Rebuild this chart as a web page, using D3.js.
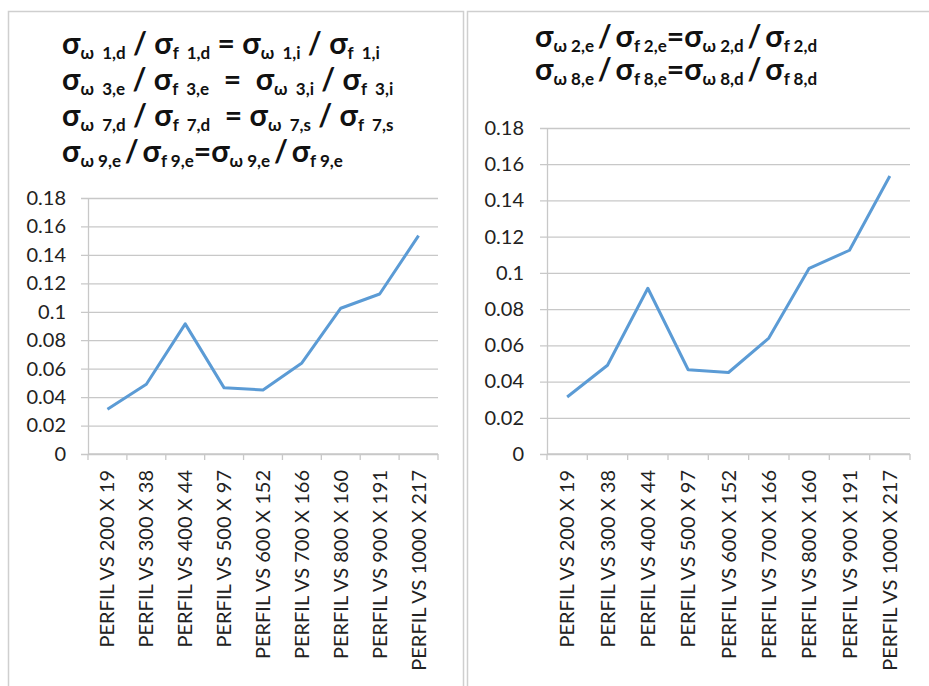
<!DOCTYPE html>
<html>
<head>
<meta charset="utf-8">
<script src="https://cdn.jsdelivr.net/npm/d3@7"></script>
<style>
  html, body { margin: 0; padding: 0; background: #fff; }
  svg { display: block; }
</style>
</head>
<body>
<svg id="chart" width="929" height="686"></svg>
<script>
// Profile comparisons along the x-axis
const categories = [
  "PERFIL VS 200 X 19",
  "PERFIL VS 300 X 38",
  "PERFIL VS 400 X 44",
  "PERFIL VS 500 X 97",
  "PERFIL VS 600 X 152",
  "PERFIL VS 700 X 166",
  "PERFIL VS 800 X 160",
  "PERFIL VS 900 X 191",
  "PERFIL VS 1000 X 217"
];

// Stress ratio for each profile, one series per panel
const valuesLeft  = [0.0315, 0.049, 0.0915, 0.0465, 0.045, 0.064, 0.1025, 0.1125, 0.1535];
const valuesRight = [0.0315, 0.049, 0.0915, 0.0465, 0.045, 0.064, 0.1025, 0.1125, 0.1535];

const yTicks = [0, 0.02, 0.04, 0.06, 0.08, 0.1, 0.12, 0.14, 0.16, 0.18];

// Title lines: [main text, subscript] pairs (thin spaces around compact slashes)
const titleLeft = [
  [["σ", "ω  1,d"], [" / ", ""], ["σ", "f  1,d"], [" = ", ""], ["σ", "ω  1,i"], [" / ", ""], ["σ", "f  1,i"]],
  [["σ", "ω  3,e"], [" / ", ""], ["σ", "f  3,e"], ["  =  ", ""], ["σ", "ω  3,i"], [" / ", ""], ["σ", "f  3,i"]],
  [["σ", "ω  7,d"], [" / ", ""], ["σ", "f  7,d"], ["  = ", ""], ["σ", "ω  7,s"], [" / ", ""], ["σ", "f  7,s"]],
  [["σ", "ω 9,e"], ["\u2009/\u2009", ""], ["σ", "f 9,e"], ["=", ""], ["σ", "ω 9,e"], ["\u2009/\u2009", ""], ["σ", "f 9,e"]]
];
const titleRight = [
  [["σ", "ω 2,e"], ["\u2009/\u2009", ""], ["σ", "f 2,e"], ["=", ""], ["σ", "ω 2,d"], ["\u2009/\u2009", ""], ["σ", "f 2,d"]],
  [["σ", "ω 8,e"], ["\u2009/\u2009", ""], ["σ", "f 8,e"], ["=", ""], ["σ", "ω 8,d"], ["\u2009/\u2009", ""], ["σ", "f 8,d"]]
];

const FONT = "Lato, 'Open Sans', sans-serif";
const svg = d3.select("#chart");

// Panel frames
svg.append("path")
  .attr("d", "M8.5,700 V11.5 H463.5 V700")
  .attr("fill", "none").attr("stroke", "#cfcfcf").attr("stroke-width", 1.5);
svg.append("path")
  .attr("d", "M467.5,700 V11.5 H940")
  .attr("fill", "none").attr("stroke", "#cfcfcf").attr("stroke-width", 1.5);

function drawTitle(lines, x, y0, lineH) {
  const g = svg.append("g");
  lines.forEach((segs, i) => {
    const text = g.append("text")
      .attr("x", x).attr("y", y0 + i * lineH)
      .attr("font-family", FONT)
      .attr("font-weight", "bold")
      .attr("fill", "#111")
      .style("white-space", "pre");
    let shifted = 0;
    segs.forEach(([main, sub]) => {
      text.append("tspan")
        .attr("font-size", 30)
        .attr("dy", -shifted)
        .text(main);
      shifted = 0;
      if (sub) {
        text.append("tspan")
          .attr("font-size", 17)
          .attr("dy", 5)
          .text(sub);
        shifted = 5;
      }
    });
  });
}

function drawPanel(values, box) {
  const x = d3.scaleBand().domain(categories).range([box.left, box.right]);
  const y = d3.scaleLinear().domain([0, 0.18]).range([box.bottom, box.top]);
  const g = svg.append("g");

  // Horizontal gridlines with short outer ticks
  g.append("g")
    .attr("transform", `translate(${box.right},0)`)
    .call(d3.axisLeft(y).tickValues(yTicks).tickSize(box.right - box.left + 7).tickFormat(""))
    .call(s => s.select(".domain").remove())
    .call(s => s.selectAll("line").attr("stroke", "#c8c8c8").attr("stroke-width", 1.3));

  // Y tick labels
  g.append("g")
    .attr("transform", `translate(${box.left},0)`)
    .call(d3.axisLeft(y).tickValues(yTicks).tickSize(0).tickPadding(box.labelPad)
      .tickFormat(d => d === 0 ? "0" : String(+d.toFixed(2))))
    .call(s => s.select(".domain").attr("stroke", "#c8c8c8").attr("stroke-width", 1.3))
    .call(s => s.selectAll("text")
      .attr("font-family", FONT).attr("font-size", 20).attr("fill", "#222"));

  // X axis: category boundary ticks and rotated labels
  const bounds = categories.map(c => x(c)).concat([box.right]);
  g.append("line")
    .attr("x1", box.left).attr("x2", box.right)
    .attr("y1", box.bottom).attr("y2", box.bottom)
    .attr("stroke", "#c8c8c8").attr("stroke-width", 1.3);
  g.selectAll(".xt").data(bounds).join("line")
    .attr("x1", d => d).attr("x2", d => d)
    .attr("y1", box.bottom).attr("y2", box.bottom + 6)
    .attr("stroke", "#c8c8c8").attr("stroke-width", 1.3);
  g.selectAll(".xl").data(categories).join("text")
    .attr("transform", d => `translate(${x(d) + x.bandwidth() / 2 + 7},${box.bottom + 16}) rotate(-90)`)
    .attr("text-anchor", "end")
    .attr("font-family", FONT).attr("font-size", 20).attr("fill", "#222")
    .text(d => d);

  // Series line
  const line = d3.line()
    .x((d, i) => x(categories[i]) + x.bandwidth() / 2)
    .y(d => y(d));
  g.append("path")
    .datum(values)
    .attr("d", line)
    .attr("fill", "none")
    .attr("stroke", "#5b9bd5")
    .attr("stroke-width", 3)
    .attr("stroke-linejoin", "round");
}

drawTitle(titleLeft, 62, 54, 36);
drawTitle(titleRight, 535, 47, 33);

drawPanel(valuesLeft,  { left: 88,  right: 438, top: 198, bottom: 454, labelPad: 22 });
drawPanel(valuesRight, { left: 547, right: 910, top: 128, bottom: 454, labelPad: 23 });
</script>
</body>
</html>
